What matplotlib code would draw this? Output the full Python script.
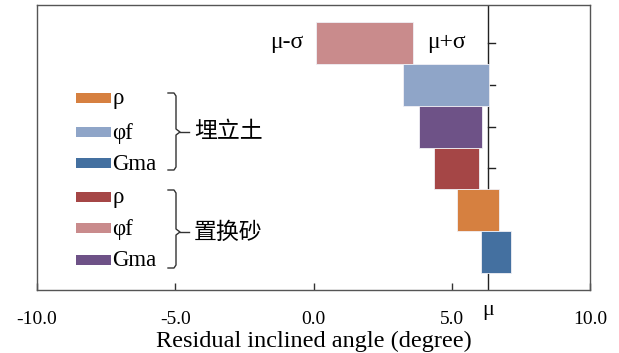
import matplotlib
matplotlib.use("Agg")
import matplotlib.pyplot as plt
from matplotlib.patches import Rectangle
from matplotlib.lines import Line2D

# ---- data ----
bar_labels = ["置换砂 φf", "埋立土 φf", "置换砂 Gma", "置换砂 ρ", "埋立土 ρ", "埋立土 Gma"]
bar_low = [0.1, 3.25, 3.8, 4.35, 5.2, 6.05]     # mu - sigma
bar_high = [3.6, 6.35, 6.1, 6.0, 6.7, 7.15]     # mu + sigma
bar_colors = ["#c98b8c", "#8fa5c8", "#6e5287", "#a54646", "#d68040", "#4470a0"]
mu = 6.3
xticks = [-10.0, -5.0, 0.0, 5.0, 10.0]
xtick_labels = ["-10.0", "-5.0", "0.0", "5.0", "10.0"]
xlabel = "Residual inclined angle (degree)"

group_names = ["埋立土", "置换砂"]
group_items = [["ρ", "φf", "Gma"], ["ρ", "φf", "Gma"]]
group_colors = [["#d68040", "#8fa5c8", "#4470a0"], ["#a54646", "#c98b8c", "#6e5287"]]

W, H = 619, 353
plt.rcParams['font.family'] = ['Liberation Serif', 'DejaVu Serif']
fig = plt.figure(figsize=(W / 100, H / 100), dpi=100)

def fx(x):
    return x / W

def fy(y):
    return 1 - y / H

L, R, T, B = 37, 590, 5, 290
ax = fig.add_axes([fx(L), fy(B), fx(R) - fx(L), fy(T) - fy(B)])

n = len(bar_low)
ys = list(range(n))
ax.axvline(mu, color="#222222", lw=1.0, zorder=1)
for i in ys[:4]:
    ax.plot([mu, mu + 0.25], [i, i], color="#222222", lw=1.0, zorder=1)
ax.barh(ys, [h - l for l, h in zip(bar_low, bar_high)], left=bar_low, height=1.0,
        color=bar_colors, edgecolor="#f0f0f5", linewidth=0.6, zorder=2)

ax.set_xlim(-10, 10)
ax.set_ylim(n - 0.5 + 0.4, -0.5 - 0.4)
ax.set_yticks([])
ax.set_xticks(xticks)
ax.set_xticklabels(xtick_labels, fontsize=14)
ax.tick_params(axis="x", direction="in", length=5, width=1, color="#333333", pad=15)
for s in ax.spines.values():
    s.set_color("#555555")
    s.set_linewidth(1.0)
ax.set_xlabel(xlabel, fontsize=17.5, labelpad=2)

# mu labels
ax.text(bar_low[0] - 0.45, 0, "μ-σ", ha="right", va="center", fontsize=17)
ax.text(bar_high[0] + 0.5, 0, "μ+σ", ha="left", va="center", fontsize=17)
ax.annotate("μ", xy=(mu, 0), xycoords=("data", "axes fraction"), xytext=(0, -8),
            textcoords="offset points", ha="center", va="top", fontsize=16)

# legend (manual)
row_y = [[98, 132, 163], [197, 228, 260]]
brace = [(93, 170, 132), (190, 268, 232)]
cjk = ['Noto Sans CJK SC', 'DejaVu Sans']
for g in range(2):
    for k in range(3):
        y = row_y[g][k]
        fig.patches.append(Rectangle((fx(76), fy(y + 5)), fx(111) - fx(76), fy(y - 5) - fy(y + 5),
                                     transform=fig.transFigure, facecolor=group_colors[g][k],
                                     edgecolor="none"))
        fig.text(fx(112), fy(y + 1), group_items[g][k], ha="left", va="center", fontsize=16.5)
    top, bot, mid = brace[g]
    xs = [fx(168), fx(174), fx(176), fx(176), fx(180), fx(176), fx(176), fx(174), fx(168)]
    yy = [fy(top), fy(top), fy(top + 3), fy(mid - 3), fy(mid), fy(mid + 3), fy(bot - 3), fy(bot), fy(bot)]
    fig.add_artist(Line2D(xs, yy, color="#333333", lw=1.0, transform=fig.transFigure))
    fig.add_artist(Line2D([fx(180), fx(189)], [fy(mid), fy(mid)], color="#333333", lw=1.0,
                          transform=fig.transFigure))
    fig.text(fx(194), fy(mid), group_names[g], ha="left", va="center", fontsize=16.5, family=cjk)

fig.savefig("out.png", dpi=100)
